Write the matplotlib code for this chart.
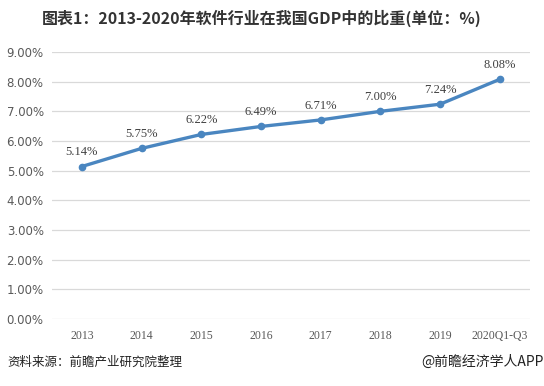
import matplotlib
matplotlib.use("Agg")
import matplotlib.pyplot as plt
from matplotlib.ticker import FuncFormatter

plt.rcParams['font.family'] = ['Noto Sans CJK SC', 'DejaVu Sans']

categories = ["2013", "2014", "2015", "2016", "2017", "2018", "2019", "2020Q1-Q3"]
values = [5.14, 5.75, 6.22, 6.49, 6.71, 7.00, 7.24, 8.08]
yticks = [0, 1, 2, 3, 4, 5, 6, 7, 8, 9]

title = "图表1：2013-2020年软件行业在我国GDP中的比重(单位：%)"
source = "资料来源：前瞻产业研究院整理"
credit = "@前瞻经济学人APP"

fig = plt.figure(figsize=(5.44, 3.86), dpi=100)
ax = fig.add_axes([0.0956, 0.1736, 0.878, 0.6917])

x = list(range(len(categories)))
ax.plot(x, values, color="#4A86C0", linewidth=2.4, marker="o", markersize=4.5,
        markerfacecolor="#4A86C0", markeredgecolor="#4A86C0", zorder=3)
for xi, v in zip(x, values):
    ax.annotate(f"{v:.2f}%", (xi, v), xytext=(0, 6), textcoords="offset points",
                ha="center", va="bottom", fontsize=9, color="#404040",
                family="Liberation Serif")

ax.set_xlim(-0.5, len(categories) - 0.5)
ax.set_ylim(0, 9)
ax.set_yticks(yticks)
ax.yaxis.set_major_formatter(FuncFormatter(lambda v, p: f"{v:.2f}%"))
ax.set_xticks(x)
ax.set_xticklabels(categories, family="Liberation Serif", fontsize=8.5, color="#595959")
for lab in ax.get_yticklabels():
    lab.set_family("DejaVu Sans")
    lab.set_fontsize(8.5)
    lab.set_color("#595959")

ax.grid(axis="y", color="#D9D9D9", linewidth=0.9)
ax.set_axisbelow(True)
for s in ax.spines.values():
    s.set_visible(False)
ax.tick_params(axis="both", length=0)
ax.tick_params(axis="y", pad=6)
ax.tick_params(axis="x", pad=8)

fig.text(0.481, 0.953, title, ha="center", va="center", fontsize=11.5,
         fontweight="bold", color="#333333")
fig.text(0.013, 0.062, source, ha="left", va="center", fontsize=9, color="#222222")
fig.text(1.0, 0.062, credit, ha="right", va="center", fontsize=10, color="#222222")

fig.savefig("out.png", dpi=100)
